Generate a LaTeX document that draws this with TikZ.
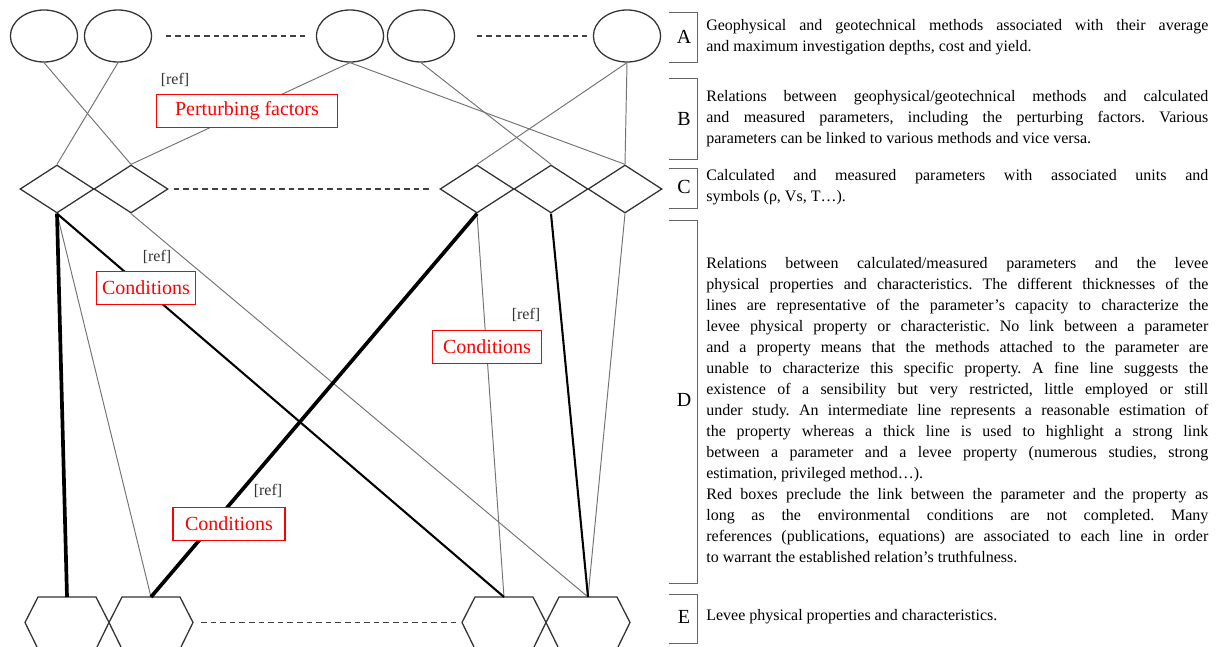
\documentclass[tikz,border=0pt]{standalone}
\usepackage{fontspec}
\setmainfont{Liberation Serif}
\usetikzlibrary{shapes,positioning}
\frenchspacing

\begin{document}
\begin{tikzpicture}[x=0.625pt, y=-0.625pt,
      rim/.style={draw=black!80, line width=0.8pt},
      method/.style={rim, ellipse, minimum width=42pt, minimum height=32.5pt, inner sep=0pt},
      param/.style={rim, diamond, minimum width=46.25pt, minimum height=30pt, inner sep=0pt},
      fine/.style={draw=black!55, line width=0.6pt},
      mid/.style={draw=black, line width=1.3pt},
      strong/.style={draw=black, line width=2.3pt},
      dotline/.style={draw=black!75, line width=0.8pt, dash pattern=on 3.5pt off 2.5pt},
      cond/.style={draw=red, line width=0.9pt, fill=white, text=red, minimum height=20.6pt,
                   font=\fontsize{12.5}{14}\selectfont},
      refl/.style={text=black!80, inner sep=0pt, font=\fontsize{10}{12}\selectfont},
      brk/.style={draw=black!60, line width=0.6pt},
      lvl/.style={inner sep=0pt, font=\fontsize{12.5}{14}\selectfont},
      note/.style={anchor=west, inner sep=0pt, text width=313.75pt, align=justify,
                   font=\fontsize{10}{13.1}\selectfont}]
      \useasboundingbox (0,0) rectangle (1217,646);

      \path (44,36) node [method] (m1) {}
            (118,36) node [method] (m2) {}
            (350,36) node [method] (m3) {}
            (421,36) node [method] (m4) {}
            (627,36) node [method] (m5) {};
      \path (57,189) node [param] (p1) {}
            (131,189) node [param] (p2) {}
            (477,189) node [param] (p3) {}
            (551,189) node [param] (p4) {}
            (625,189) node [param] (p5) {};
      \foreach \hx/\cx in {h1/67, h2/151, h3/504, h4/588} {
            \coordinate (\hx) at (\cx,597);
            \coordinate (\hx-w) at (\cx-42,622.5);
            \coordinate (\hx-e) at (\cx+42,622.5);
            \draw [rim] (\cx-29,597) -- (\cx+29,597) -- (\hx-e) -- (\cx+29,649)
                  -- (\cx-29,649) -- (\hx-w) -- cycle;
      }

      \draw [dotline] ([xshift=8.4pt]m2.east) -- ([xshift=-6.6pt]m3.west)
                      ([xshift=13.4pt]m4.east) -- ([xshift=-3.4pt]m5.west)
                      ([xshift=3.1pt]p2.east) -- ([xshift=-5pt]p3.west)
                      ([xshift=5pt]h2-e) -- ([xshift=-1.2pt]h3-w);

      \draw [fine] (m1.south) edge (p2.north)
                   (m2.south) edge (p1.north)
                   (m3.south) edge (p2.north)
                   (m3.south) edge (p5.north)
                   (m4.south) edge (p4.north)
                   (m5.south) edge (p3.north)
                   (m5.south) edge (p5.north);
      \draw [fine] (p1.south) edge (h2)
                   (p2.south) edge (h4)
                   (p3.south) edge (h3)
                   (p5.south) edge (h4);
      \draw [mid] (p1.south) edge (h3)
                  (p4.south) edge (h4);
      \draw [strong] (p1.south) edge (h1)
                     (p3.south) edge (h2);

      \node [cond, minimum width=113pt] (pf) at (247,111) {Perturbing factors};
      \node [cond, minimum width=61pt] (c1) at (146,288) {Conditions};
      \node [cond, minimum width=68pt] (c2) at (487,347) {Conditions};
      \node [cond, minimum width=70pt] (c3) at (229,524) {Conditions};
      \node [refl] (pfref) at (175,80) {[ref]};
      \node [refl] (c1ref) at (157,257) {[ref]};
      \node [refl] (c2ref) at (526,315) {[ref]};
      \node [refl] (c3ref) at (268,491) {[ref]};

      \foreach \l/\t/\b/\ly in {A/12/62/37, B/78/159/119, C/168/208/187, D/220/583/400, E/594/643/617} {
            \draw [brk] (669,\t) -| (697,\b) -- (669,\b);
            \node [lvl] (lbl\l) at (684,\ly) {\l};
      }

      \node [note] (txtA) at (706,37) {Geophysical and geotechnical methods associated with their average\linebreak
            and maximum investigation depths, cost and yield.};
      \node [note] (txtB) at (706,119) {Relations between geophysical/geotechnical methods and calculated\linebreak
            and measured parameters, including the perturbing factors. Various\linebreak
            parameters can be linked to various methods and vice versa.};
      \node [note] (txtC) at (706,187) {Calculated and measured parameters with associated units and\linebreak
            symbols (ρ, Vs, T…).};
      \node [note] (txtD) at (706,410) {Relations between calculated/measured parameters and the levee\linebreak
            physical properties and characteristics. The different thicknesses of the\linebreak
            lines are representative of the parameter’s capacity to characterize the\linebreak
            levee physical property or characteristic. No link between a parameter\linebreak
            and a property means that the methods attached to the parameter are\linebreak
            unable to characterize this specific property. A fine line suggests the\linebreak
            existence of a sensibility but very restricted, little employed or still\linebreak
            under study. An intermediate line represents a reasonable estimation of\linebreak
            the property whereas a thick line is used to highlight a strong link\linebreak
            between a parameter and a levee property (numerous studies, strong\linebreak
            estimation, privileged method…).\par
            Red boxes preclude the link between the parameter and the property as\linebreak
            long as the environmental conditions are not completed. Many\linebreak
            references (publications, equations) are associated to each line in order\linebreak
            to warrant the established relation’s truthfulness.};
      \node [note] (txtE) at (706,617) {Levee physical properties and characteristics.};
\end{tikzpicture}
\end{document}
